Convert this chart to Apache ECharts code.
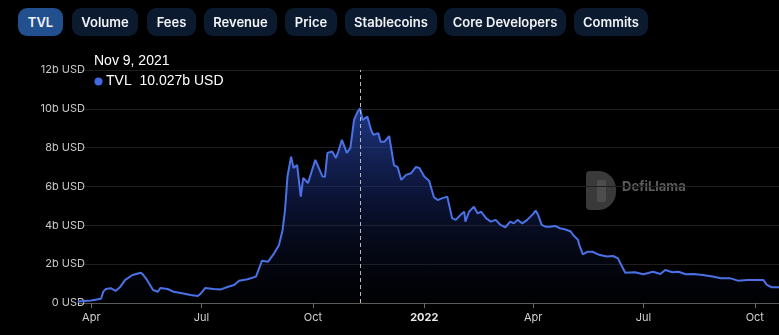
<!DOCTYPE html>
<html>
<head>
<meta charset="utf-8">
<script src="https://cdn.jsdelivr.net/npm/echarts@6/dist/echarts.min.js"></script>
<style>
  html, body { margin:0; padding:0; background:#000; width:779px; height:335px; overflow:hidden; }
  #chart { position:absolute; left:0; top:0; width:779px; height:335px; }
  .btn { position:absolute; top:8px; height:28px; line-height:28px; border-radius:9px; background:#0b1a2e;
         color:#f2f4f8; font-family:Inter, "Open Sans", sans-serif; font-weight:600; font-size:13px; text-align:center; }
  .btn.active { background:#22508f; }
</style>
</head>
<body>
<div id="chart"></div>
<div id="tabs"></div>
<script>
// ---- data (TVL in billions USD) ----
const dates = [
 '2021-03-21','2021-04-01','2021-04-09','2021-04-11','2021-04-13','2021-04-17','2021-04-21','2021-04-25','2021-04-29','2021-05-05',
 '2021-05-12','2021-05-14','2021-05-17','2021-05-22','2021-05-26','2021-05-28','2021-06-03','2021-06-08','2021-06-15','2021-06-22',
 '2021-06-28','2021-06-30','2021-07-04','2021-07-11','2021-07-17','2021-07-23','2021-07-28','2021-08-01','2021-08-08','2021-08-15',
 '2021-08-20','2021-08-25','2021-08-30','2021-09-03','2021-09-06','2021-09-08','2021-09-10','2021-09-13','2021-09-15','2021-09-18',
 '2021-09-21','2021-09-23','2021-09-27','2021-10-03','2021-10-09','2021-10-11','2021-10-13','2021-10-17','2021-10-20','2021-10-22',
 '2021-10-25','2021-10-29','2021-11-01','2021-11-04','2021-11-07','2021-11-09','2021-11-11','2021-11-15','2021-11-18','2021-11-20',
 '2021-11-24','2021-11-26','2021-11-29','2021-12-03','2021-12-07','2021-12-10','2021-12-13','2021-12-17','2021-12-21','2021-12-25',
 '2021-12-28','2022-01-01','2022-01-05','2022-01-09','2022-01-12','2022-01-16','2022-01-20','2022-01-24','2022-01-27','2022-01-31',
 '2022-02-03','2022-02-04','2022-02-07','2022-02-11','2022-02-14','2022-02-17','2022-02-21','2022-02-25','2022-03-01','2022-03-05',
 '2022-03-09','2022-03-13','2022-03-16','2022-03-19','2022-03-23','2022-03-27','2022-04-01','2022-04-03','2022-04-05','2022-04-08',
 '2022-04-11','2022-04-15','2022-04-19','2022-04-23','2022-04-27','2022-05-02','2022-05-04','2022-05-08','2022-05-09','2022-05-12',
 '2022-05-16','2022-05-20','2022-05-26','2022-06-01','2022-06-06','2022-06-10','2022-06-12','2022-06-16','2022-06-24','2022-07-01',
 '2022-07-09','2022-07-15','2022-07-19','2022-07-25','2022-07-30','2022-08-05','2022-08-11','2022-08-19','2022-08-27','2022-09-03',
 '2022-09-11','2022-09-17','2022-09-25','2022-10-08','2022-10-11','2022-10-15','2022-10-21'
];
const tvl = [
 0.08,0.13,0.22,0.60,0.72,0.76,0.62,0.84,1.19,1.44,
 1.56,1.44,1.19,0.67,0.58,0.77,0.72,0.58,0.50,0.41,
 0.36,0.46,0.77,0.72,0.70,0.84,0.93,1.15,1.22,1.36,
 2.18,2.13,2.56,2.99,3.76,4.80,6.50,7.54,6.96,7.10,
 5.48,6.44,6.18,7.37,6.51,6.50,7.73,7.80,7.47,7.80,
 8.40,7.73,7.99,9.43,9.86,10.027,9.43,9.60,8.92,8.66,
 8.75,8.31,8.30,8.60,7.10,7.00,6.34,6.60,6.68,7.00,
 6.95,6.51,6.30,5.45,5.30,5.40,5.48,4.37,4.28,4.54,
 4.70,4.19,4.70,4.96,4.62,4.70,4.37,4.19,4.28,4.02,
 3.90,4.19,4.10,4.28,4.10,4.28,4.59,4.76,4.54,4.02,
 3.93,3.93,3.97,3.85,3.80,3.68,3.50,3.25,3.00,2.50,
 2.64,2.64,2.47,2.39,2.42,2.30,2.05,1.56,1.58,1.48,
 1.61,1.49,1.70,1.58,1.61,1.48,1.49,1.44,1.36,1.27,
 1.27,1.15,1.19,1.19,0.93,0.81,0.81
];
const tickDates = ['2021-04-01','2021-07-01','2021-10-01','2022-01-01','2022-04-01','2022-07-01','2022-10-01'];
const tickLabels = ['Apr','Jul','Oct','2022','Apr','Jul','Oct'];
const tabs = ['TVL','Volume','Fees','Revenue','Price','Stablecoins','Core Developers','Commits'];
const hoverDate = '2021-11-09';
const axisStart = '2021-03-21', axisEnd = '2022-10-21';

// ---- tabs ----
const tabLeft = [18,72,147,204,285,345,444,574];
const tabWidth = [45,66,49,73,52,92,122,74];
const tabsEl = document.getElementById('tabs');
tabs.forEach((t,i)=>{
  const d=document.createElement('div'); d.className='btn'+(i===0?' active':'');
  d.style.left=tabLeft[i]+'px'; d.style.width=tabWidth[i]+'px'; d.textContent=t; tabsEl.appendChild(d);
});

function ts(s){ const p=s.split('-').map(Number); return Date.UTC(p[0],p[1]-1,p[2]); }
const seriesData = dates.map((d,i)=>[ts(d), tvl[i]]);
const tickVals = tickDates.map(ts);
const hv = tvl[dates.indexOf(hoverDate)];
const hd = new Date(ts(hoverDate));
const monthNames=['Jan','Feb','Mar','Apr','May','Jun','Jul','Aug','Sep','Oct','Nov','Dec'];
const hoverTitle = monthNames[hd.getUTCMonth()]+' '+hd.getUTCDate()+', '+hd.getUTCFullYear();

const chart = echarts.init(document.getElementById('chart'), null, {renderer:'canvas'});
const FONT = 'Inter, "Open Sans", sans-serif';
const TIPFONT = '"Liberation Sans", Arial, sans-serif';
chart.setOption({
  animation:false,
  backgroundColor:'#000',
  grid:{left:78, right:0, top:70, bottom:32, containLabel:false},
  xAxis:{
    type:'value', min:ts(axisStart), max:ts(axisEnd),
    axisLine:{show:true, lineStyle:{color:'#5a5a5a', width:1}},
    axisTick:{show:true, customValues:tickVals, length:5, lineStyle:{color:'#6a6a6a'}},
    splitLine:{show:false},
    axisLabel:{
      customValues:tickVals, margin:9, color:'#d0d0d0', fontSize:11, fontFamily:FONT,
      formatter:function(v){ const i=tickVals.indexOf(v); const l=i>=0?tickLabels[i]:''; return /^\d{4}$/.test(l)?'{y|'+l+'}':l; },
      rich:{y:{fontWeight:'bold', color:'#e8e8e8', fontSize:11, fontFamily:FONT}}
    }
  },
  yAxis:{
    type:'value', min:0, max:12, interval:2,
    axisLine:{show:false}, axisTick:{show:false},
    splitLine:{show:true, lineStyle:{color:'#1f1f1f', width:1}},
    axisLabel:{margin:-7, color:'#c8c8c8', fontSize:11, fontFamily:FONT,
      formatter:function(v){ return v===0 ? '0 USD' : v+'b USD'; }}
  },
  series:[{
    type:'line', data:seriesData, showSymbol:false, symbol:'none',
    lineStyle:{color:'#4a72e6', width:2},
    itemStyle:{color:'#4a72e6'},
    areaStyle:{color:new echarts.graphic.LinearGradient(0,0,0,1,[
      {offset:0, color:'rgba(52,92,220,0.85)'},
      {offset:0.45, color:'rgba(28,48,130,0.6)'},
      {offset:1, color:'rgba(8,12,35,0.15)'}
    ])},
    markLine:{silent:true, symbol:['none','none'], label:{show:false},
      lineStyle:{color:'#b8b8b8', type:[4,3], width:1},
      data:[{xAxis:ts(hoverDate)}]}
  }],
  graphic:[
    {type:'text', left:94, top:54, style:{text:hoverTitle, fill:'#ffffff', font:'14px '+TIPFONT}},
    {type:'circle', shape:{cx:98.5, cy:81.5, r:4}, style:{fill:'#4169e1'}},
    {type:'text', left:106, top:74, style:{text:'TVL  '+hv.toFixed(3)+'b USD', fill:'#ffffff', font:'14px '+TIPFONT}},
    {type:'group', left:586, top:171, children:[
      {type:'rect', shape:{x:0,y:0,width:30,height:39,r:[4,18,18,4]}, style:{fill:'#3a3a3a'}},
      {type:'rect', shape:{x:11,y:9,width:9,height:22,r:2}, style:{fill:'#4d4d4d'}},
      {type:'text', left:36, top:10, style:{text:'DefiLlama', fill:'#5d5d5d', font:'bold 13px '+FONT}}
    ]}
  ]
});
</script>
</body>
</html>
